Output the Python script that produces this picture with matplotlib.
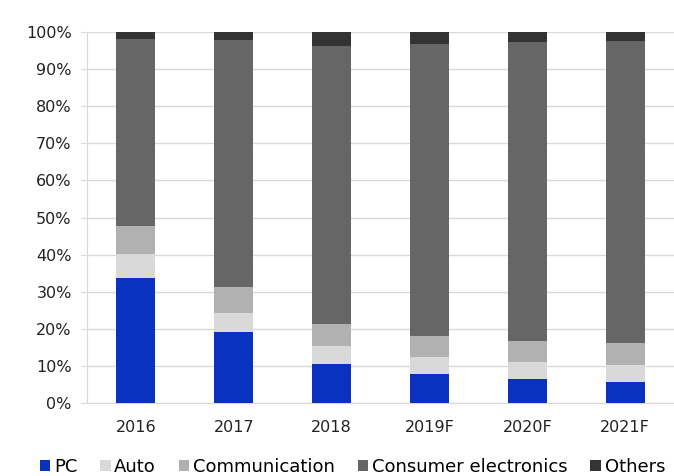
import matplotlib.pyplot as plt
from matplotlib.ticker import PercentFormatter
import numpy as np

years = ['2016', '2017', '2018', '2019F', '2020F', '2021F']
pc = [33.6, 19.1, 10.4, 7.8, 6.5, 5.7]
auto = [6.5, 5.1, 5.0, 4.7, 4.5, 4.5]
comm = [7.7, 7.2, 5.9, 5.6, 5.7, 6.0]
consumer = [50.3, 66.5, 75.0, 78.7, 80.6, 81.4]
others = [1.9, 2.1, 3.7, 3.2, 2.7, 2.4]

names = ['PC', 'Auto', 'Communication', 'Consumer electronics', 'Others']
colors = ['#0a32c0', '#d9d9d9', '#b1b1b1', '#666666', '#333333']
series = [pc, auto, comm, consumer, others]

plt.rcParams['font.family'] = ['DejaVu Sans']
fig = plt.figure(figsize=(6.74, 4.76), dpi=100)
ax = fig.add_axes([87/674, 1 - 403/476, (674 - 87)/674, 371/476])

x = np.arange(len(years))
bottom = np.zeros(len(years))
for name, vals, c in zip(names, series, colors):
    ax.bar(x, vals, 0.4, bottom=bottom, color=c, label=name, zorder=3)
    bottom += np.array(vals)

ax.set_xlim(-0.5, len(years) - 0.5)
ax.set_ylim(0, 100)
ax.set_yticks(range(0, 101, 10))
ax.yaxis.set_major_formatter(PercentFormatter(decimals=0))
ax.set_xticks(x)
ax.set_xticklabels(years)
ax.grid(axis='y', color='#d9d9d9', linewidth=1, zorder=0)
for s in ['top', 'right']:
    ax.spines[s].set_visible(False)
ax.spines['left'].set_color('#d9d9d9')
ax.spines['bottom'].set_color('#d9d9d9')
ax.tick_params(axis='y', length=4, color='#d9d9d9', labelsize=11.5, labelcolor='#222222', pad=7)
ax.tick_params(axis='x', length=0, labelsize=11.5, labelcolor='#222222', pad=12)

ax.legend(loc='center', bbox_to_anchor=(0.452, -0.172), ncol=5, frameon=False,
          fontsize=13, handlelength=0.6, handleheight=0.6, handletextpad=0.2,
          columnspacing=1.25)

fig.savefig('out.png', dpi=100)
